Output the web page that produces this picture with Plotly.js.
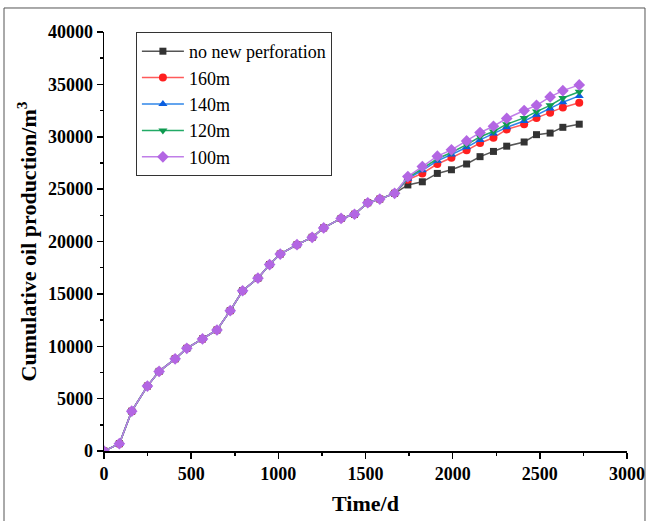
<!DOCTYPE html>
<html>
<head>
<meta charset="utf-8">
<script src="https://cdn.plot.ly/plotly-3.0.1.min.js"></script>
<style>
html,body{margin:0;padding:0;background:#fff;}
#chart{width:649px;height:521px;}
</style>
</head>
<body>
<div id="chart"></div>
<script>
// Shared history (all scenarios identical before new perforation)
const timeCommon = [0, 88, 159, 249, 316, 408, 475, 565, 648, 724, 795, 883, 950, 1011, 1107, 1194, 1260, 1360, 1437, 1513, 1582, 1667];
const prodCommon = [0, 700, 3800, 6200, 7600, 8800, 9800, 10700, 11550, 13400, 15300, 16500, 17800, 18800, 19700, 20400, 21300, 22200, 22600, 23700, 24050, 24600];

// Forecast period
const timeForecast = [1743, 1826, 1912, 1993, 2080, 2157, 2234, 2310, 2410, 2481, 2559, 2632, 2726];
const prodNoNew = [25400, 25700, 26500, 26850, 27400, 28100, 28600, 29100, 29500, 30200, 30350, 30900, 31200];
const prod160 = [25900, 26500, 27400, 28000, 28700, 29400, 29900, 30700, 31200, 31800, 32300, 32800, 33250];
const prod140 = [26000, 26800, 27700, 28300, 29000, 29700, 30300, 30900, 31500, 32100, 32700, 33300, 33900];
const prod120 = [26100, 26950, 27900, 28500, 29250, 30000, 30500, 31200, 31800, 32400, 33000, 33700, 34300];
const prod100 = [26200, 27150, 28150, 28750, 29600, 30400, 31000, 31750, 32500, 33000, 33800, 34400, 34950];

const seriesNames = ["no new perforation", "160m", "140m", "120m", "100m"];
const seriesValues = [prodNoNew, prod160, prod140, prod120, prod100];
const lineColors = ["#555555", "#ff5a5a", "#2f86e8", "#22aa66", "#c07ee8"];
const markerColors = ["#333333", "#ff1f1f", "#0a5ee0", "#0e9a50", "#b366e3"];
const symbols = ["square", "circle", "triangle-up", "triangle-down", "diamond"];
const sizes = [7, 8, 8, 8, 9];

const traces = seriesNames.map((n, i) => ({
  type: "scatter",
  mode: "lines+markers",
  name: n,
  x: timeCommon.concat(timeForecast),
  y: prodCommon.concat(seriesValues[i]),
  line: {color: lineColors[i], width: 1.5},
  marker: {color: markerColors[i], symbol: symbols[i], size: sizes[i]}
}));

const serif = "Liberation Serif, Times New Roman, serif";
const layout = {
  width: 649, height: 521,
  margin: {l: 104, r: 22, t: 32, b: 70},
  paper_bgcolor: "#fff", plot_bgcolor: "#fff",
  showlegend: true,
  legend: {
    x: 0.061, y: 1.0, xanchor: "left", yanchor: "top",
    bordercolor: "#333", borderwidth: 1, bgcolor: "#fff",
    font: {family: serif, size: 18, color: "#000"},
    itemwidth: 42,
    tracegroupgap: 0
  },
  xaxis: {
    range: [0, 3000], dtick: 500, tick0: 0, tickformat: "d",
    showgrid: false, zeroline: false,
    showline: true, linecolor: "#000", linewidth: 1.5,
    ticks: "outside", ticklen: 6, tickwidth: 1.5, tickcolor: "#000",
    minor: {dtick: 250, ticks: "outside", ticklen: 3, tickwidth: 1.5, tickcolor: "#000"},
    tickfont: {family: serif, size: 18, color: "#000", weight: "bold"},
    title: {text: "<b>Time/d</b>", font: {family: serif, size: 22, color: "#000"}, standoff: 12}
  },
  yaxis: {
    range: [0, 40000], dtick: 5000, tick0: 0, tickformat: "d",
    showgrid: false, zeroline: false,
    showline: true, linecolor: "#000", linewidth: 1.5,
    ticks: "outside", ticklen: 6, tickwidth: 1.5, tickcolor: "#000",
    minor: {dtick: 2500, ticks: "outside", ticklen: 3, tickwidth: 1.5, tickcolor: "#000"},
    tickfont: {family: serif, size: 18, color: "#000", weight: "bold"},
    title: {text: "<b>Cumulative oil production/m<sup>3</sup></b>", font: {family: serif, size: 22, color: "#000"}, standoff: 5}
  },
  shapes: [{
    type: "rect", xref: "paper", yref: "paper",
    x0: -0.1912, x1: 1.0344, y0: -0.17, y1: 1.0573,
    line: {color: "#555", width: 1}, fillcolor: "rgba(0,0,0,0)", layer: "below"
  }]
};

Plotly.newPlot("chart", traces, layout, {displayModeBar: false, staticPlot: true});
</script>
</body>
</html>
